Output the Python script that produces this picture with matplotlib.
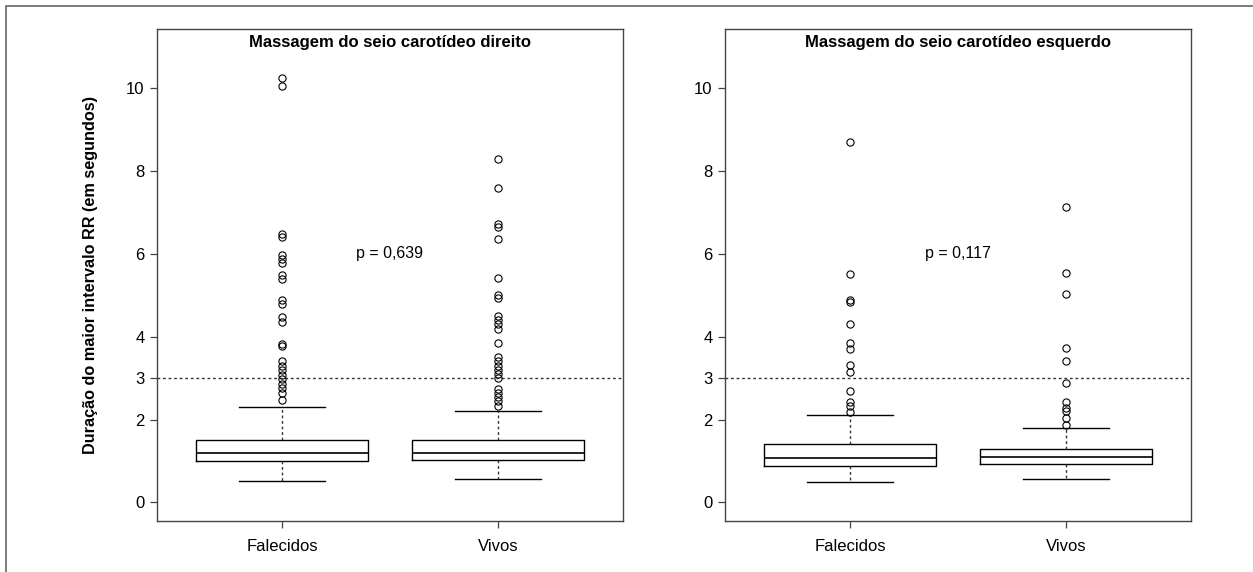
import matplotlib
matplotlib.use("Agg")
import matplotlib.pyplot as plt
from matplotlib.patches import Rectangle

# ---- data ----
groups = ["Falecidos", "Vivos"]
titles = ["Massagem do seio carotídeo direito", "Massagem do seio carotídeo esquerdo"]
p_labels = ["p = 0,639", "p = 0,117"]
y_label = "Duração do maior intervalo RR (em segundos)"
y_ticks = [0, 2, 3, 4, 6, 8, 10]
cutoff = 3

# box stats: whislo, q1, median, q3, whishi
dir_falecidos_box = [0.51, 0.99, 1.20, 1.52, 2.31]
dir_vivos_box = [0.57, 1.02, 1.20, 1.52, 2.20]
esq_falecidos_box = [0.50, 0.89, 1.08, 1.40, 2.11]
esq_vivos_box = [0.57, 0.93, 1.09, 1.29, 1.79]

dir_falecidos_out = [10.25, 10.05, 6.48, 6.40, 5.97, 5.88, 5.78, 5.50, 5.40,
                     4.89, 4.80, 4.49, 4.35, 3.82, 3.77, 3.42, 3.30, 3.19,
                     3.08, 2.99, 2.87, 2.77, 2.65, 2.48]
dir_vivos_out = [8.29, 7.60, 6.72, 6.64, 6.37, 5.43, 5.01, 4.93, 4.51, 4.41,
                 4.31, 4.20, 3.86, 3.51, 3.41, 3.30, 3.20, 3.10, 3.00, 2.74,
                 2.64, 2.54, 2.44, 2.34]
esq_falecidos_out = [8.70, 5.52, 4.89, 4.85, 4.32, 3.85, 3.70, 3.33, 3.16,
                     2.70, 2.43, 2.32, 2.18]
esq_vivos_out = [7.13, 5.54, 5.03, 3.73, 3.42, 2.88, 2.42, 2.28, 2.20, 2.04, 1.86]

panels = [
    [(dir_falecidos_box, dir_falecidos_out), (dir_vivos_box, dir_vivos_out)],
    [(esq_falecidos_box, esq_falecidos_out), (esq_vivos_box, esq_vivos_out)],
]

plt.rcParams['font.family'] = ['Liberation Sans', 'DejaVu Sans']

fig = plt.figure(figsize=(12.53, 5.72), dpi=100)

# outer frame
fig.add_artist(Rectangle((6 / 1253, -0.1), 1.2, 1.1 - 6 / 572,
                         transform=fig.transFigure, fill=False,
                         edgecolor="#666666", lw=1.2))

edge = "#444444"
lefts = [157 / 1253, 725 / 1253]
for i, left in enumerate(lefts):
    ax = fig.add_axes([left, 0.0897, 466 / 1253, 0.8601])
    stats = []
    for name, (box, out) in zip(groups, panels[i]):
        stats.append(dict(label=name, whislo=box[0], q1=box[1], med=box[2],
                          q3=box[3], whishi=box[4], fliers=out))
    ax.bxp(stats, positions=[1, 2], widths=0.8,
           boxprops=dict(color="black", lw=1.0),
           medianprops=dict(color="black", lw=1.2),
           whiskerprops=dict(color="#333333", lw=1.0, linestyle=(0, (2, 2))),
           capprops=dict(color="black", lw=1.0), capwidths=0.4,
           flierprops=dict(marker="o", markersize=5.2, markerfacecolor="none",
                           markeredgecolor="black", markeredgewidth=0.8))
    ax.axhline(cutoff, color="#333333", lw=1.0, linestyle=(0, (2, 2)), zorder=0)
    ax.set_xlim(0.42, 2.58)
    ax.set_ylim(-0.44, 11.44)
    ax.set_yticks(y_ticks)
    ax.set_xticks([1, 2])
    ax.set_xticklabels(groups)
    ax.tick_params(labelsize=12, length=5, width=0.9, color=edge)
    ax.tick_params(axis="y", pad=4)
    ax.tick_params(axis="x", pad=8)
    for s in ax.spines.values():
        s.set_color(edge)
        s.set_linewidth(1.0)
    ax.text(0.5, 0.988, titles[i], transform=ax.transAxes, ha="center",
            va="top", fontsize=12, fontweight="bold")
    ax.text(1.5, 6.0, p_labels[i], ha="center", va="center", fontsize=11.5)
    if i == 0:
        ax.set_ylabel(y_label, fontsize=11.7, fontweight="bold", labelpad=20)

fig.savefig("out.png", dpi=100)
